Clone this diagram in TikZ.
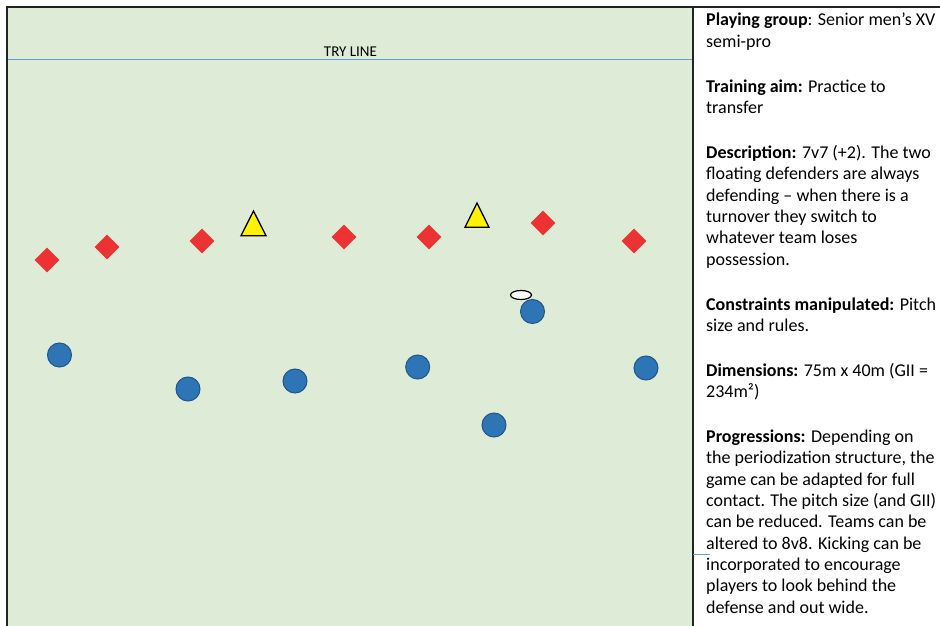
\documentclass[tikz,border=0pt]{standalone}
\usepackage{fontspec}
\setmainfont{Carlito}
\usetikzlibrary{shapes.geometric}
\definecolor{pitch}{RGB}{222,235,215}
\definecolor{redp}{RGB}{236,50,50}
\definecolor{bluep}{RGB}{46,117,182}
\definecolor{bluedk}{RGB}{32,86,140}
\definecolor{tryc}{RGB}{95,158,218}
\definecolor{bord}{RGB}{35,35,35}
\tikzset{
  redplayer/.style={diamond,fill=redp,inner sep=0pt,minimum width=25pt,minimum height=25pt},
  blueplayer/.style={circle,fill=bluep,draw=bluedk,line width=1pt,inner sep=0pt,minimum size=24pt},
  floater/.style={fill=yellow,draw=black,line width=1.3pt,line join=miter},
  ballst/.style={ellipse,fill=white,draw=black,line width=1.2pt,inner sep=0pt,minimum width=21pt,minimum height=9pt},
  panel/.style={align=left,inner sep=0pt,anchor=base west,font=\fontsize{18}{21.3}\selectfont}
}
\newcommand{\parskipline}{\\[23.7pt]}
\begin{document}
\begin{tikzpicture}[x=1pt,y=-1pt]
\useasboundingbox (0,0) rectangle (940,626);
\fill[white] (0,0) rectangle (940,626);
% pitch
\fill[pitch] (7,7) rectangle (693,630);
\draw[tryc,line width=1.2pt] (7,59.5) -- (693,59.5);
\node[font=\fontsize{15}{18}\selectfont,anchor=base,inner sep=0pt] (try) at (350.5,56.7) {TRY LINE};
\draw[bord,line width=1.6pt] (940,7) -- (7,7) -- (7,630);
\draw[bord,line width=1.6pt] (693,7) -- (693,630);
\draw[tryc,line width=1pt] (693,554) -- (710,554);
% red team
\node[redplayer] (r1) at (47,260) {};
\node[redplayer] (r2) at (107,247) {};
\node[redplayer] (r3) at (202,241) {};
\node[redplayer] (r4) at (344,237) {};
\node[redplayer] (r5) at (429,237) {};
\node[redplayer] (r6) at (543,223) {};
\node[redplayer] (r7) at (634,241) {};
% floating defenders
\draw[floater] (253.5,211) -- (266,235.7) -- (241,235.7) -- cycle;
\draw[floater] (477,203) -- (489,227.3) -- (465,227.3) -- cycle;
% blue team
\node[blueplayer] (b1) at (59.5,355) {};
\node[blueplayer] (b2) at (188,389) {};
\node[blueplayer] (b3) at (295,381) {};
\node[blueplayer] (b4) at (417.7,367) {};
\node[blueplayer] (b5) at (532.5,311.5) {};
\node[blueplayer] (b6) at (646,368) {};
\node[blueplayer] (b7) at (494,425) {};
% ball
\node[ballst] (ball) at (521,295) {};
% text panel (anchored at the baseline of its last line)
\node[panel] (info) at (706,613) {%
\textbf{Playing group}: Senior men’s XV\\
semi-pro\parskipline
\textbf{Training aim:} Practice to\\
transfer\parskipline
\textbf{Description:} 7v7 (+2). The two\\
floating defenders are always\\
defending – when there is a\\
turnover they switch to\\
whatever team loses\\
possession.\parskipline
\textbf{Constraints manipulated:} Pitch\\
size and rules.\parskipline
\textbf{Dimensions:} 75m x 40m (GII =\\
234m²)\parskipline
\textbf{Progressions:} Depending on\\
the periodization structure, the\\
game can be adapted for full\\
contact. The pitch size (and GII)\\
can be reduced. Teams can be\\
altered to 8v8. Kicking can be\\
incorporated to encourage\\
players to look behind the\\
defense and out wide.};
\end{tikzpicture}
\end{document}
